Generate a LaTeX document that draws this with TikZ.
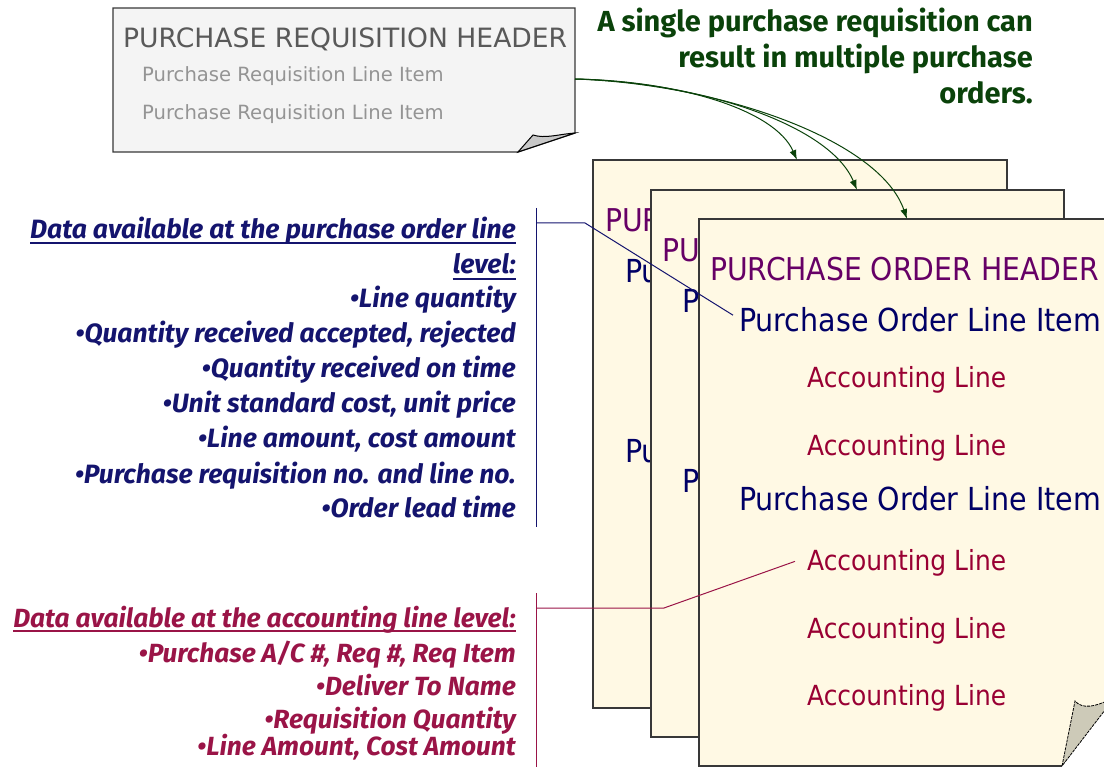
\documentclass[tikz,border=0pt]{standalone}
\usepackage{fontspec}
\setmainfont{DejaVu Sans}
\newfontfamily\condfont{DejaVu Sans Condensed}
\newfontfamily\handfont{Fira Sans}
\usetikzlibrary{arrows.meta}
\definecolor{cream}{HTML}{FFF9E4}
\definecolor{reqfill}{HTML}{F4F4F4}
\definecolor{edge}{HTML}{383838}
\definecolor{flapgray}{HTML}{C8C8C8}
\definecolor{flaptan}{HTML}{CDCAB8}
\definecolor{hdrpurple}{HTML}{660066}
\definecolor{navy}{HTML}{000066}
\definecolor{crimson}{HTML}{990033}
\definecolor{notegreen}{HTML}{0A420A}
\definecolor{notenavy}{HTML}{14146E}
\definecolor{notecrimson}{HTML}{9A1447}
\newcommand\fs[1]{\fontsize{#1}{#1}\selectfont}
\begin{document}
\begin{tikzpicture}[x=1pt,y=-1pt,
  txt/.style={inner sep=0pt,anchor=base west},
  rtxt/.style={inner sep=0pt,anchor=base east},
  pagebox/.style={fill=cream,draw=edge,line width=1.6pt},
  poheader/.style={txt,text=hdrpurple,font=\condfont\fs{31.4}},
  poline/.style={txt,text=navy,font=\condfont\fs{31.7}},
  acline/.style={txt,text=crimson,font=\condfont\fs{27.7}},
  reqhead/.style={txt,text=black!65,font=\fs{26.6}},
  reqline/.style={txt,text=black!42,font=\fs{19.6}},
  greennote/.style={rtxt,text=notegreen,font=\handfont\bfseries\fs{29}},
  navynote/.style={rtxt,text=notenavy,font=\handfont\bfseries\itshape\fs{26.5}},
  crimsonnote/.style={rtxt,text=notecrimson,font=\handfont\bfseries\itshape\fs{26.3}},
  navylink/.style={draw=notenavy,line width=1pt},
  crimsonlink/.style={draw=notecrimson,line width=1pt},
  flow/.style={draw=notegreen,line width=1pt,-{Latex[length=10pt,width=7pt]}}
]
\useasboundingbox (0,0) rectangle (1104,767);
\clip (0,0) rectangle (1104,767);

% ---- purchase requisition sheet ----
\path[fill=reqfill,draw=edge,line width=1.3pt]
  (113,8) -- (575,8) -- (575,133) -- (518,152) -- (113,152) -- cycle;
\path[fill=flapgray,draw=black,line width=1pt]
  (518,152) -- (533,135) .. controls (545,139) and (560,134) .. (575,133) -- cycle;
\node[reqhead] (reqh) at (123,48) {PURCHASE REQUISITION HEADER};
\node[reqline] (reql1) at (142,82) {Purchase Requisition Line Item};
\node[reqline] (reql2) at (142,120) {Purchase Requisition Line Item};
\coordinate (reqout) at (575,79);

% ---- purchase order sheets, back to front ----
\path[pagebox] (593,160) rectangle (1007,708);
\coordinate (po1top) at (797,160);
\begin{scope}
  \clip (594,161) rectangle (651,707);
  \node[poheader] (po1h) at (605,232) {PUR};
  \node[poline] (po1a) at (625,283) {Pu};
  \node[poline] (po1b) at (625,463) {Pu};
\end{scope}

\path[pagebox] (651,190) rectangle (1064,737);
\coordinate (po2top) at (857,190);
\begin{scope}
  \clip (652,191) rectangle (699,736);
  \node[poheader] (po2h) at (662,262) {PU};
  \node[poline] (po2a) at (682,313) {P};
  \node[poline] (po2b) at (682,492) {P};
\end{scope}

\path[fill=cream] (699,219) -- (1115,219) -- (1115,697) -- (1062,766) -- (699,766) -- cycle;
\draw[edge,line width=1.6pt] (1115,219) -- (699,219) -- (699,766) -- (1062,766);
\path[fill=flaptan,draw=black,line width=0.8pt,dash pattern=on 3pt off 1pt]
  (1062,766) -- (1075,701) .. controls (1082,709) and (1094,708) .. (1115,697) -- cycle;
\coordinate (po3top) at (907,219);
\node[poheader] (po3h) at (710,281) {PURCHASE ORDER HEADER};
\node[poline] (po3a) at (739,332) {Purchase Order Line Item};
\node[acline] (ac1) at (807,388) {Accounting Line};
\node[acline] (ac2) at (807,455) {Accounting Line};
\node[poline] (po3b) at (739,510) {Purchase Order Line Item};
\node[acline] (ac3) at (807,570) {Accounting Line};
\node[acline] (ac4) at (807,638) {Accounting Line};
\node[acline] (ac5) at (807,705) {Accounting Line};

% ---- one requisition feeding several orders ----
\node[greennote] (g1) at (1033,32) {A single purchase requisition can};
\node[greennote] (g2) at (1033,68) {result in multiple purchase};
\node[greennote] (g3) at (1033,104) {orders.};
\draw[flow] (reqout) .. controls (680,81) and (775,110) .. (po1top);
\draw[flow] (reqout) .. controls (700,82) and (830,125) .. (po2top);
\draw[flow] (reqout) .. controls (720,84) and (880,140) .. (po3top);

% ---- order line data ----
\node[navynote] (n0) at (516,239) {Data available at the purchase order line};
\node[navynote] (n0b) at (516,274) {level:};
\draw[notenavy,line width=1.2pt] ([yshift=-4pt]n0.base west) -- ([yshift=-4pt]n0.base east);
\draw[notenavy,line width=1.2pt] ([yshift=-5pt]n0b.base west) -- ([yshift=-5pt]n0b.base east);
\node[navynote] (n1) at (516,308) {•Line quantity};
\node[navynote] (n2) at (516,343) {•Quantity received accepted, rejected};
\node[navynote] (n3) at (516,378) {•Quantity received on time};
\node[navynote] (n4) at (516,413) {•Unit standard cost, unit price};
\node[navynote] (n5) at (516,447) {•Line amount, cost amount};
\node[navynote] (n6) at (516,483) {•Purchase requisition no. and line no.};
\node[navynote] (n7) at (516,517) {•Order lead time};
\coordinate (navytop) at (536,208);
\coordinate (navybot) at (536,527);
\coordinate (navyarm) at (536,223);
\coordinate (navyknee) at (585,223);
\draw[navylink] (navytop) -- (navybot);
\draw[navylink] (navyarm) -- (navyknee) -- ([xshift=-6pt,yshift=5pt]po3a.west);

% ---- accounting line data ----
\node[crimsonnote] (c0) at (516,627) {Data available at the accounting line level:};
\draw[notecrimson,line width=1.2pt] ([yshift=-4pt]c0.base west) -- ([yshift=-4pt]c0.base east);
\node[crimsonnote] (c1) at (516,662) {•Purchase A/C \#, Req \#, Req Item};
\node[crimsonnote] (c2) at (516,695) {•Deliver To Name};
\node[crimsonnote] (c3) at (516,728) {•Requisition Quantity};
\node[crimsonnote] (c4) at (516,755) {•Line Amount, Cost Amount};
\coordinate (crimtop) at (536,593);
\coordinate (crimbot) at (536,770);
\coordinate (crimarm) at (536,608);
\coordinate (crimknee) at (664,608);
\draw[crimsonlink] (crimtop) -- (crimbot);
\draw[crimsonlink] (crimarm) -- (crimknee) -- ([xshift=-12pt,yshift=1pt]ac3.west);
\end{tikzpicture}
\end{document}
